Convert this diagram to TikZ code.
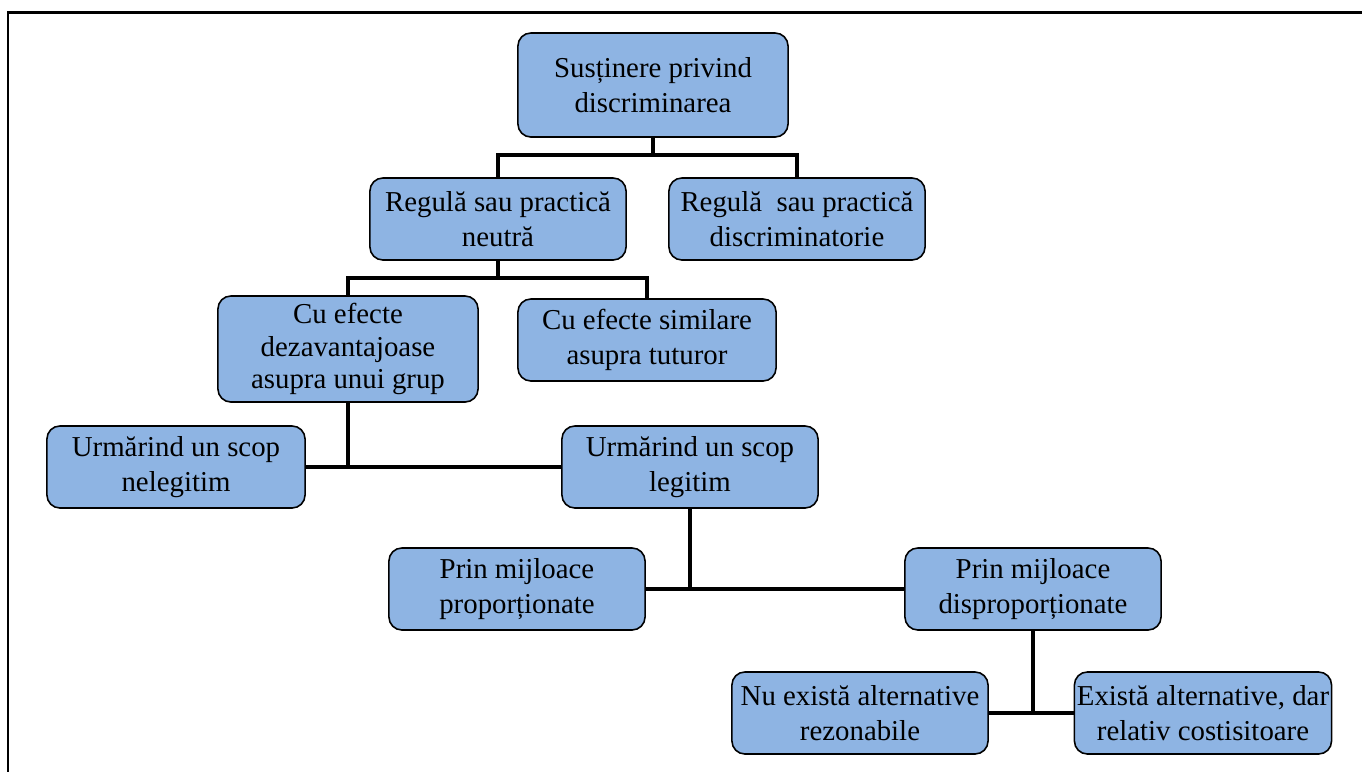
\documentclass[tikz,border=0pt]{standalone}
\usepackage{fontspec}
\setmainfont{Liberation Serif}
\usepackage{tikz}
\usetikzlibrary{calc}
\definecolor{boxblue}{RGB}{142,180,227}
\tikzset{
  every picture/.style = {
    x=0.01cm,
    y=-0.01cm,
    font=\fontsize{8.2}{10.0}\selectfont
  },
  box/.style={
    draw,
    line width=0.45pt,
    fill=boxblue,
    rounded corners=0.13cm,
    align=center,
    inner sep=0pt,
    minimum width=2.56cm,
    minimum height=0.82cm
  },
  link/.style={
    line width=1.15pt
  },
  frameline/.style={
    line width=0.85pt
  }
}
\begin{document}
\begin{tikzpicture}
        \useasboundingbox (0,0) rectangle (1362,772);
        \draw[frameline] (8,772)--(8,12)--(1362,12);
        %
        \node[box, minimum width=2.70cm, minimum height=1.04cm] (root) at (653,85) {Susținere privind\\discriminarea};
        \node[box] (neutra) at (498,219) {Regulă sau practică\\neutră};
        \node[box] (discrim) at (797,219) {Regulă\ \ sau practică\\discriminatorie};
        %
        \node[box, minimum width=2.60cm, minimum height=1.06cm, font=\fontsize{8.2}{9.3}\selectfont] (dezav) at (348,349) {Cu efecte\\dezavantajoase\\asupra unui grup};
        \node[box, minimum width=2.58cm] (similar) at (647,340) {Cu efecte similare\\asupra tuturor};
        %
        \node[box, minimum width=2.58cm] (nelegit) at (176,467) {Urmărind un scop\\nelegitim};
        \node[box] (legit) at (690,467) {Urmărind un scop\\legitim};
        %
        \node[box] (prop) at (517,589) {Prin mijloace\\proporționate};
        \node[box] (disprop) at (1033,589) {Prin mijloace\\disproporționate};
        %
        \node[box] (nualt) at (860,713) {Nu există alternative\\rezonabile};
        \node[box, minimum width=2.57cm] (costalt) at (1203,713) {Există alternative, dar\\relativ costisitoare};
        %
        \coordinate (j1) at (653,155);
        \coordinate (j2) at (498,278);
        \draw[link] (root.south)--(j1);
        \draw[link] (neutra.north) |- (j1) -| (discrim.north);
        \draw[link] (neutra.south)--(j2);
        \draw[link] (dezav.north) |- (j2) -| (similar.north);
        %
        \draw[link] (nelegit.east)--(legit.west);
        \draw[link] (dezav.south)--(dezav.south |- nelegit.east);
        \draw[link] (prop.east)--(disprop.west);
        \draw[link] (legit.south)--(legit.south |- prop.east);
        \draw[link] (nualt.east)--(costalt.west);
        \draw[link] (disprop.south)--(disprop.south |- nualt.east);
    \end{tikzpicture}
\end{document}
